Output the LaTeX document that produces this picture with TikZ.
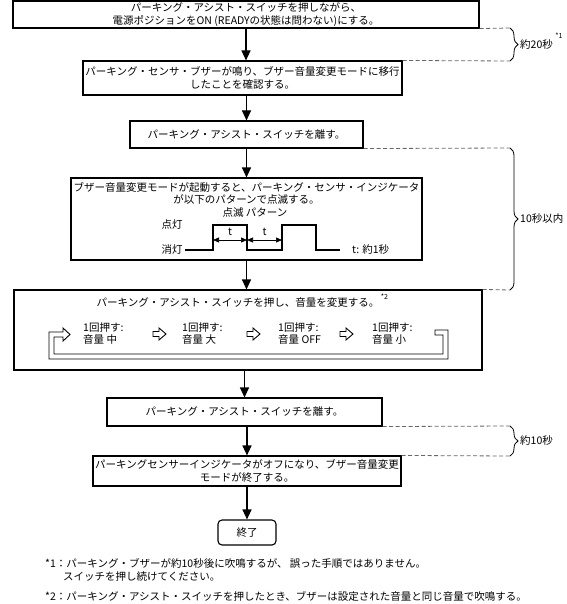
\documentclass[tikz,border=0pt]{standalone}
\usepackage{fontspec}
\setmainfont{Noto Sans CJK JP}
\usetikzlibrary{arrows.meta,decorations.pathreplacing}
\begin{document}
\begin{tikzpicture}[x=1pt,y=-1pt,
  every node/.style={font=\fontsize{10.5}{12.5}\selectfont, inner sep=0pt},
  box/.style={draw, line width=1.1pt, align=center},
  flow/.style={line width=1.1pt, -{Triangle[width=9pt,length=10pt]}},
  guide/.style={draw=black!60, line width=0.8pt, dash pattern=on 4pt off 2.5pt},
  brc/.style={draw, decorate, decoration={brace, amplitude=8pt}, line width=0.8pt},
  sup/.style={font=\fontsize{7}{8}\selectfont},
  wave/.style={line width=2pt},
  tarr/.style={line width=0.7pt, {Triangle[width=5pt,length=6pt]}-{Triangle[width=5pt,length=6pt]}},
  hol/.style={draw, line width=0.9pt, fill=white},
  harrow/.pic={\draw[hol] (0,-2.5) -- (6,-2.5) -- (6,-6) -- (13,0) -- (6,6) -- (6,2.5) -- (0,2.5) -- cycle;},
]
\useasboundingbox (0,0) rectangle (566,604);

% boxes
\node[box, minimum width=466pt, minimum height=27pt] (b1) at (246,14.5)
  {パーキング・アシスト・スイッチを押しながら、\\電源ポジションをON (READYの状態は問わない)にする。};
\node[box, minimum width=319pt, minimum height=34pt] (b2) at (242.5,78)
  {パーキング・センサ・ブザーが鳴り、ブザー音量変更モードに移行\\したことを確認する。};
\node[box, minimum width=233pt, minimum height=27pt] (b3) at (246.5,134.5)
  {パーキング・アシスト・スイッチを離す。};
\node[box, minimum width=351pt, minimum height=82pt] (b4) at (246.5,219) {};
\node[box, minimum width=468pt, minimum height=80pt] (b5) at (248,330) {};
\node[box, minimum width=275pt, minimum height=28pt] (b6) at (244.5,412)
  {パーキング・アシスト・スイッチを離す。};
\node[box, minimum width=308pt, minimum height=30pt] (b7) at (247,471)
  {パーキングセンサーインジケータがオフになり、ブザー音量変更\\モードが終了する。};
\node[box, rounded corners=4pt, minimum width=58pt, minimum height=25pt] (e) at (247,532.5) {終了};

% main flow
\draw[flow] (b1.south) -- (b1.south |- b2.north);
\draw[flow] (b2.south -| b3.north) -- (b3.north);
\draw[flow] (b3.south) -- (b3.south |- b4.north);
\draw[flow] (b4.south) -- (b4.south |- b5.north);
\draw[flow] (b5.south -| b6.north) -- (b6.north);
\draw[flow] (b6.south -| b7.north) -- (b7.north);
\draw[flow] (b7.south) -- (b7.south |- e.north);

% box 4 content
\node (t4) at (246.5,193.5) [align=center]
  {ブザー音量変更モードが起動すると、パーキング・センサ・インジケータ\\が以下のパターンで点滅する。};
\node (pat) at (255,213) {点滅 パターン};
\node (on) at (172,225) {点灯};
\node (off) at (172,250) {消灯};
\draw[wave] (185,250) -- (213,250) -- (213,225) -- (247,225) -- (247,250) -- (282,250)
  -- (282,225) -- (316,225) -- (316,250) -- (340,250);
\coordinate (p1) at (213,240);
\coordinate (p2) at (247,240);
\coordinate (p3) at (282,240);
\draw[tarr] (p1) -- (p2);
\draw[tarr] (p2) -- (p3);
\node (ta) at (230,232) {t};
\node (tb) at (264.5,232) {t};
\node[anchor=west] (tt) at (352,250) {t: 約1秒};

% box 5 content
\node (t5) at (238,303) {パーキング・アシスト・スイッチを押し、音量を変更する。};
\node[sup, anchor=south west] (s2) at ([xshift=1pt,yshift=-2pt]t5.north east) {*2};
\node[anchor=west, align=left] (i1) at (83,333.5) {1回押す:\\音量 中};
\node[anchor=west, align=left] (i2) at (182,333.5) {1回押す:\\音量 大};
\node[anchor=west, align=left] (i3) at (278,333.5) {1回押す:\\音量 OFF};
\node[anchor=west, align=left] (i4) at (372,333.5) {1回押す:\\音量 小};
\pic at (153,334) {harrow};
\pic at (247,334) {harrow};
\pic at (340,334) {harrow};
\draw[hol] (435,330) -- (448,330) -- (448,359) -- (49,359) -- (49,332) -- (63,332) -- (63,328)
  -- (70,334.5) -- (63,341) -- (63,337) -- (54,337) -- (54,354) -- (443,354) -- (443,335)
  -- (435,335) -- cycle;

% timing guides and braces
\coordinate (g1a) at (510,28);
\coordinate (g1b) at (510,61);
\draw[guide] (b1.south east) -- (g1a);
\draw[guide] (b2.north east) -- (g1b);
\draw[brc] (g1a) -- (g1b);
\node[anchor=west] (l1) at (520,44.5) {約20秒};
\node[sup] (n1) at (559,36) {*1};

\coordinate (g2a) at (510,148);
\coordinate (g2b) at (510,290);
\draw[guide] (b3.south east) -- (g2a);
\draw[guide] (b5.north east) -- (g2b);
\draw[brc] (g2a) -- (g2b);
\node[anchor=west] (l2) at (520,219) {10秒以内};

\coordinate (g3a) at (510,426);
\coordinate (g3b) at (510,456);
\draw[guide] (b6.south east) -- (g3a);
\draw[guide] (b7.north east) -- (g3b);
\draw[brc] (g3a) -- (g3b);
\node[anchor=west] (l3) at (520,441) {約10秒};

% footnotes
\node[anchor=west] (f1) at (45,563) {*1：パーキング・ブザーが約10秒後に吹鳴するが、 誤った手順ではありません。};
\node[anchor=west] (f1b) at (63,577) {スイッチを押し続けてください。};
\node[anchor=west] (f2) at (45,596) {*2：パーキング・アシスト・スイッチを押したとき、ブザーは設定された音量と同じ音量で吹鳴する。};
\end{tikzpicture}
\end{document}
